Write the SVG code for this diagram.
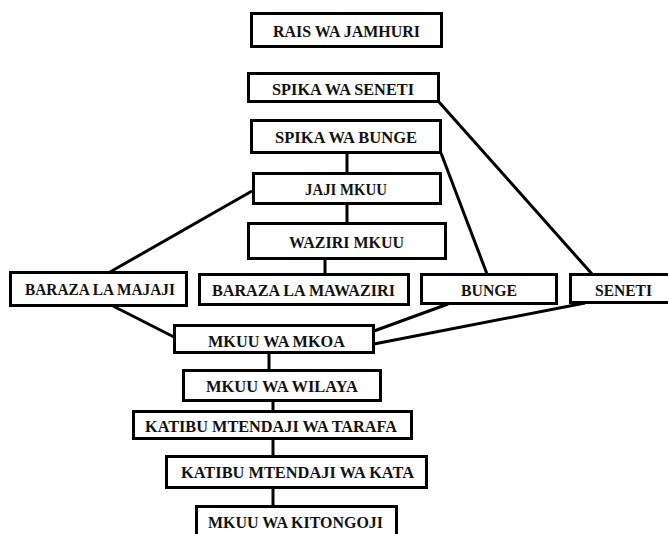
<svg xmlns="http://www.w3.org/2000/svg" width="668" height="534" viewBox="0 0 668 534">
<style>
rect{fill:#fff;stroke:#000;stroke-width:3}
text{font-family:"Liberation Serif","Times New Roman",serif;font-weight:bold;font-size:17.5px;text-anchor:middle;fill:#111}
#connectors line{stroke:#000;stroke-width:3;stroke-linecap:butt}
</style>
<rect x="0" y="0" width="668" height="534" style="fill:#fff;stroke:none"/>
<g id="connectors">
<line x1="347" y1="154" x2="347" y2="173"/>
<line x1="347" y1="205" x2="347" y2="223"/>
<line x1="325" y1="259" x2="325" y2="274"/>
<line x1="269" y1="353" x2="269" y2="370"/>
<line x1="273" y1="401" x2="273" y2="411"/>
<line x1="273" y1="439" x2="273" y2="456"/>
<line x1="273" y1="488" x2="273" y2="506"/>
<line x1="439" y1="102" x2="592" y2="274"/>
<line x1="441" y1="153" x2="487" y2="274"/>
<line x1="252" y1="191" x2="110" y2="272"/>
<line x1="113" y1="306" x2="174" y2="337"/>
<line x1="448" y1="304" x2="374" y2="331"/>
<line x1="585" y1="303" x2="374" y2="344"/>
</g>
<g id="rais"><rect x="251.5" y="13.5" width="190" height="33"/><text x="346.5" y="37" textLength="147" lengthAdjust="spacingAndGlyphs">RAIS WA JAMHURI</text></g>
<g id="spika-seneti"><rect x="248.5" y="73.5" width="190" height="28"/><text x="343" y="95" textLength="142" lengthAdjust="spacingAndGlyphs">SPIKA WA SENETI</text></g>
<g id="spika-bunge"><rect x="251.5" y="120.5" width="189" height="32"/><text x="346" y="143" textLength="142" lengthAdjust="spacingAndGlyphs">SPIKA WA BUNGE</text></g>
<g id="jaji-mkuu"><rect x="253.5" y="173.5" width="187" height="30"/><text x="346" y="195" textLength="82" lengthAdjust="spacingAndGlyphs">JAJI MKUU</text></g>
<g id="waziri-mkuu"><rect x="248.5" y="223.5" width="197" height="35"/><text x="346.5" y="248" textLength="115" lengthAdjust="spacingAndGlyphs">WAZIRI MKUU</text></g>
<g id="baraza-majaji"><rect x="10.5" y="272.5" width="176" height="33"/><text x="100" y="295" textLength="150" lengthAdjust="spacingAndGlyphs">BARAZA LA MAJAJI</text></g>
<g id="baraza-mawaziri"><rect x="199.5" y="274.5" width="209" height="30"/><text x="303.5" y="296" textLength="183" lengthAdjust="spacingAndGlyphs">BARAZA LA MAWAZIRI</text></g>
<g id="bunge"><rect x="421.5" y="274.5" width="135" height="29"/><text x="489" y="296" textLength="56" lengthAdjust="spacingAndGlyphs">BUNGE</text></g>
<g id="seneti"><rect x="570.5" y="274.5" width="110" height="28"/><text x="623.5" y="296" textLength="57" lengthAdjust="spacingAndGlyphs">SENETI</text></g>
<g id="mkuu-mkoa"><rect x="174.5" y="325.5" width="199" height="27"/><text x="276.5" y="347" textLength="137" lengthAdjust="spacingAndGlyphs">MKUU WA MKOA</text></g>
<g id="mkuu-wilaya"><rect x="183.5" y="370.5" width="197" height="30"/><text x="282" y="392" textLength="152" lengthAdjust="spacingAndGlyphs">MKUU WA WILAYA</text></g>
<g id="katibu-tarafa"><rect x="133.5" y="411.5" width="278" height="27"/><text x="271" y="432" textLength="252" lengthAdjust="spacingAndGlyphs">KATIBU MTENDAJI WA TARAFA</text></g>
<g id="katibu-kata"><rect x="166.5" y="456.5" width="260" height="31"/><text x="297.5" y="478" textLength="233" lengthAdjust="spacingAndGlyphs">KATIBU MTENDAJI WA KATA</text></g>
<g id="mkuu-kitongoji"><rect x="196.5" y="506.5" width="200" height="32"/><text x="295.5" y="528" textLength="175" lengthAdjust="spacingAndGlyphs">MKUU WA KITONGOJI</text></g>
</svg>
